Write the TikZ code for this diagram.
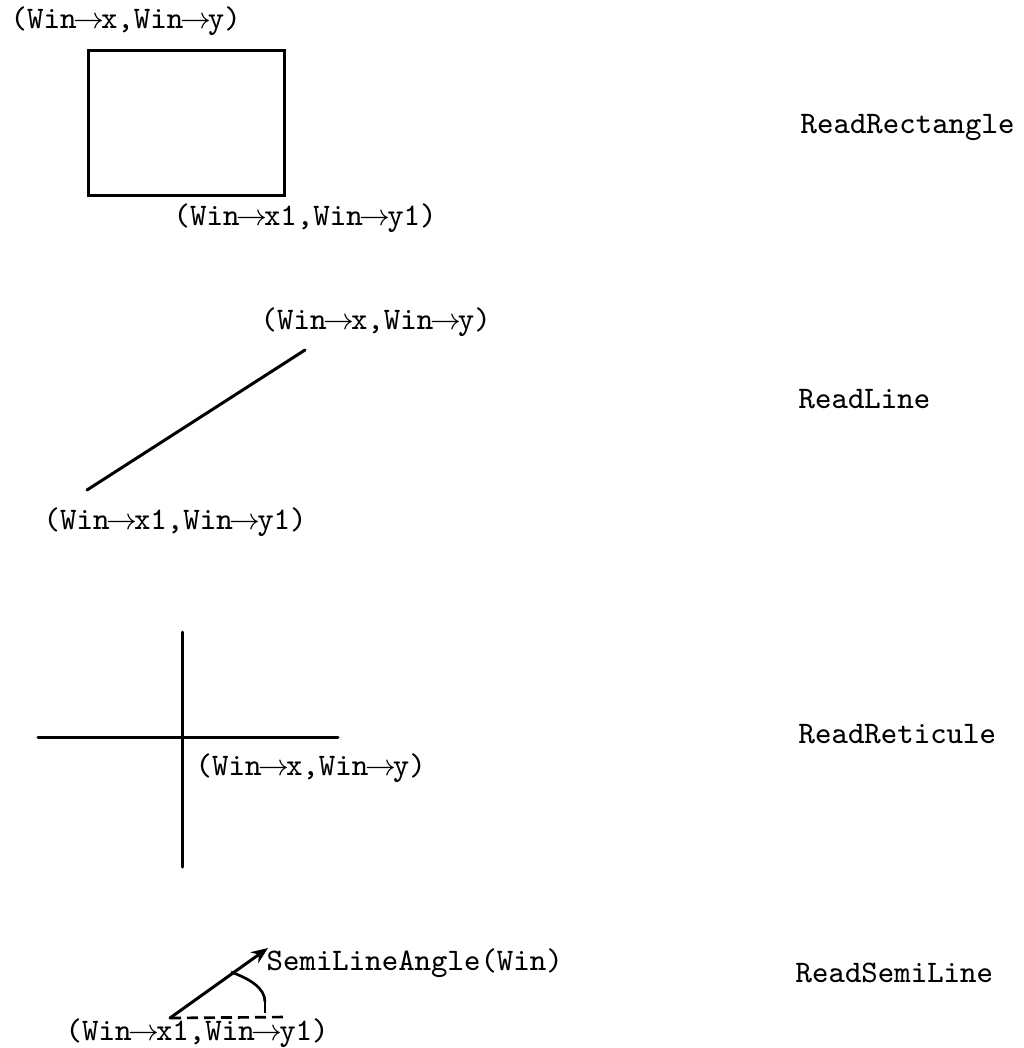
\documentclass[tikz,border=0pt]{standalone}
\usetikzlibrary{arrows.meta}
\newcommand\tar{\hspace{-0.1em}$\rightarrow$\hspace{-0.1em}}
\begin{document}
\begin{tikzpicture}[x=0.3pt,y=-0.3pt,
  lbl/.style={font=\fontsize{9.4}{11}\selectfont\ttfamily, inner sep=0pt, anchor=west},
  shape line/.style={line width=0.9pt, line cap=round},
  dash line/.style={line width=0.8pt, dash pattern=on 3.3pt off 1.8pt}]
\useasboundingbox (0,0) rectangle (1023,1048);
% ReadRectangle
\node[lbl] (r1) at (10,21) {(Win\tar x,Win\tar y)};
\node[draw, line width=0.9pt, minimum width=196*0.3pt, minimum height=145*0.3pt, inner sep=0pt] (rect) at (186,122.5) {};
\node[lbl] (r2) at (173,218) {(Win\tar x1,Win\tar y1)};
\node[lbl] (rn) at (800,127) {ReadRectangle};
% ReadLine
\coordinate (la) at (305,350);
\coordinate (lb) at (87,490);
\draw[shape line] (lb) -- (la);
\node[lbl] (l1) at (260,322) {(Win\tar x,Win\tar y)};
\node[lbl] (l2) at (43,522) {(Win\tar x1,Win\tar y1)};
\node[lbl] (ln) at (798,399) {ReadLine};
% ReadReticule
\coordinate (vt) at (182,632);
\coordinate (vb) at (182,867);
\coordinate (hl) at (38,737);
\coordinate (hr) at (338,737);
\draw[shape line] (vt) -- (vb);
\draw[shape line] (hl) -- (hr);
\node[lbl] (c1) at (195,768) {(Win\tar x,Win\tar y)};
\node[lbl] (cn) at (798,734) {ReadReticule};
% ReadSemiLine
\coordinate (s0) at (170,1018);
\coordinate (s1) at (268,948);
\coordinate (a0) at (231,972);
\coordinate (a1) at (265,1002);
\coordinate (a2) at (265,1017);
\coordinate (d1) at (288,1017);
\draw[shape line, -{Stealth[length=5pt,width=4pt]}] (s0) -- (s1);
\draw[line width=0.8pt] (a0) .. controls (250,979) and (265,988) .. (a1);
\draw[dash line] (a1) -- (a2);
\draw[dash line] (s0) -- (d1);
\node[lbl] (sa) at (266,963) {SemiLineAngle(Win)};
\node[lbl] (s2) at (65,1033) {(Win\tar x1,Win\tar y1)};
\node[lbl] (sn) at (795,973) {ReadSemiLine};
\end{tikzpicture}
\end{document}
